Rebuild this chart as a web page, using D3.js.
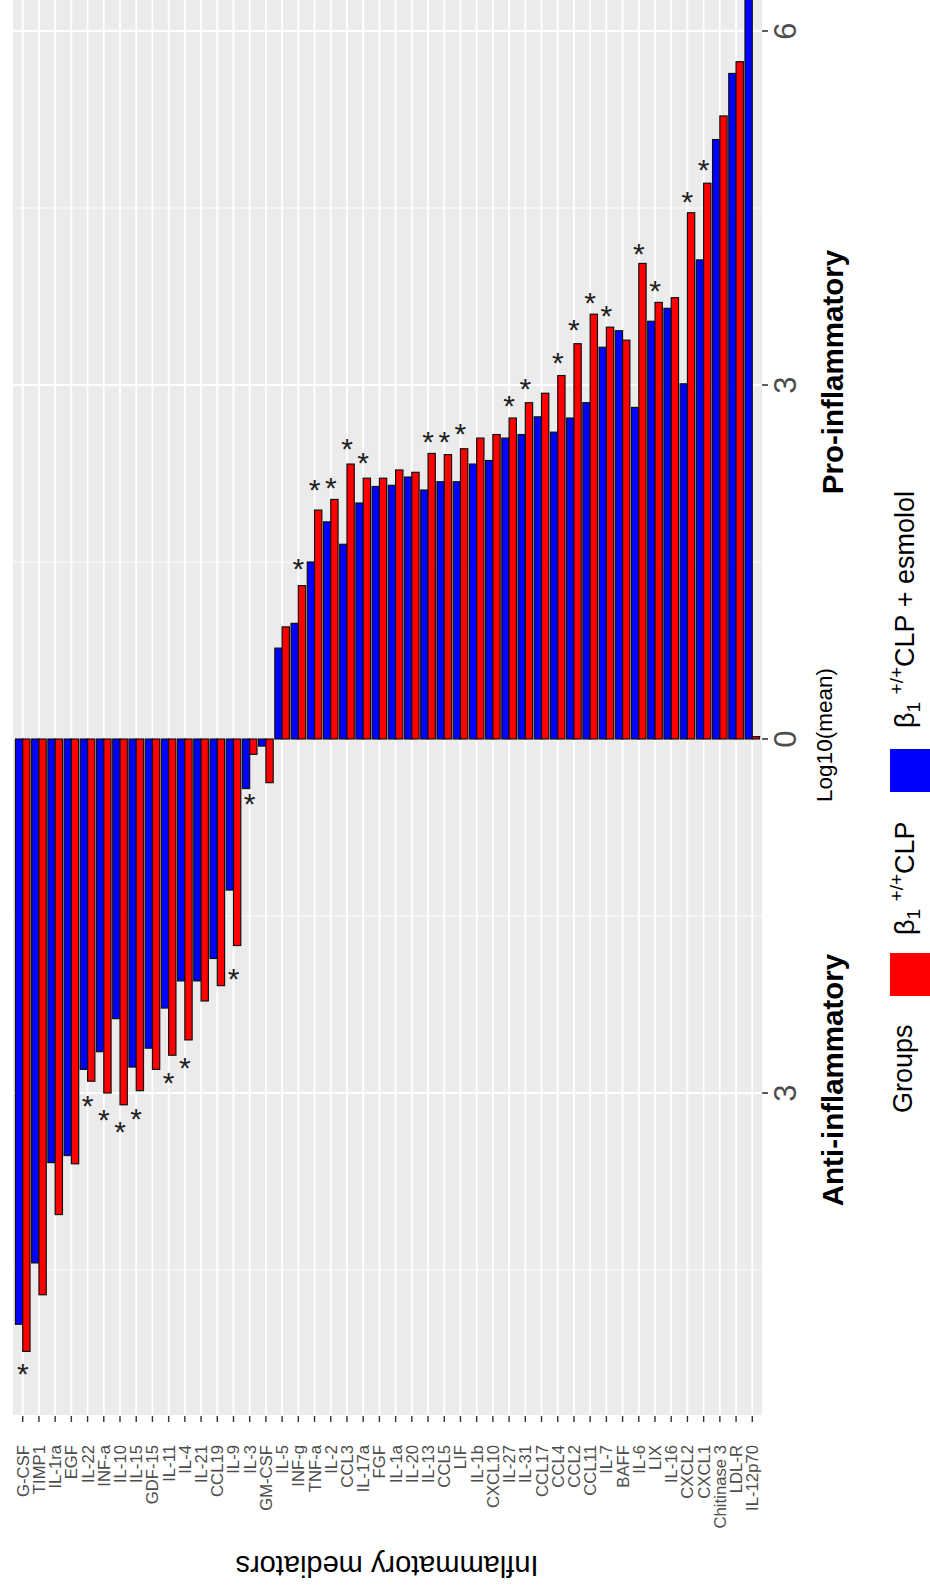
<!DOCTYPE html>
<html><head><meta charset="utf-8">
<script src="https://cdn.jsdelivr.net/npm/d3@7"></script>
<style>
body{margin:0;background:#fff;}
svg{display:block;font-family:"Liberation Sans",Arial,Helvetica,sans-serif;}
</style>
</head><body>
<svg id="chart" width="930" height="1585"></svg>
<script>
// ---------------- data ----------------
const categories = ["G-CSF","TIMP1","IL-1ra","EGF","IL-22","INF-a","IL-10","IL-15","GDF-15","IL-11","IL-4","IL-21","CCL19","IL-9","IL-3","GM-CSF","IL-5","INF-g","TNF-a","IL-2","CCL3","IL-17a","FGF","IL-1a","IL-20","IL-13","CCL5","LIF","IL-1b","CXCL10","IL-27","IL-31","CCL17","CCL4","CCL2","CCL11","IL-7","BAFF","IL-6","LIX","IL-16","CXCL2","CXCL1","Chitinase 3","LDL-R","IL-12p70"];
// β1+/+ CLP + esmolol (blue)
const esmololValues = [-4.96,-4.44,-3.59,-3.53,-2.80,-2.65,-2.37,-2.78,-2.62,-2.28,-2.05,-2.05,-1.86,-1.28,-0.42,-0.06,0.77,0.98,1.50,1.84,1.65,2.00,2.14,2.15,2.22,2.11,2.18,2.18,2.33,2.36,2.55,2.58,2.73,2.60,2.72,2.85,3.32,3.46,2.81,3.54,3.65,3.01,4.06,5.08,5.64,6.80];
// β1+/+ CLP (red)
const clpValues = [-5.19,-4.71,-4.03,-3.60,-2.90,-3.00,-3.10,-2.98,-2.80,-2.68,-2.55,-2.22,-2.09,-1.75,-0.13,-0.37,0.95,1.30,1.94,2.03,2.33,2.21,2.21,2.28,2.26,2.42,2.41,2.46,2.55,2.58,2.72,2.85,2.93,3.08,3.35,3.60,3.49,3.38,4.03,3.70,3.74,4.46,4.71,5.28,5.74,0.02];
// position of significance stars (Log10 units), null = none
const starValues = [-5.32,null,null,null,-3.05,-3.17,-3.27,-3.16,null,-2.85,-2.73,null,null,-1.97,-0.49,null,null,1.50,2.17,2.19,2.52,2.40,null,null,null,2.58,2.58,2.65,null,null,2.88,3.03,null,3.25,3.53,3.76,3.65,null,4.17,3.86,null,4.61,4.88,null,null,null];
const valueTicks = [-3, 0, 3, 6];
const minorTicks = [-4.5, -1.5, 1.5, 4.5];
const groups = ["esmolol", "clp"];
const groupColors = {esmolol: "#0000FF", clp: "#FF0000"};

// ---------------- layout ----------------
const svg = d3.select("#chart");
const P = {left: 13, right: 762, top: 0, bottom: 1415};
const x = d3.scaleBand().domain(categories).range([P.left, P.right]).paddingInner(0).paddingOuter(0.1);
const y = d3.scaleLinear().domain([(739 - 1415) / 118, 739 / 118]).range([P.bottom, P.top]);
const gx = d3.scaleBand().domain(groups).range([0, x.bandwidth() * 0.9]);
const off = x.bandwidth() * 0.05;

const data = categories.map((c, i) => ({
  cat: c,
  esmolol: esmololValues[i],
  clp: clpValues[i],
  star: starValues[i]
}));

svg.append("defs").append("clipPath").attr("id", "clip")
  .append("rect").attr("x", P.left).attr("y", P.top)
  .attr("width", P.right - P.left).attr("height", P.bottom - P.top);

// panel
svg.append("rect").attr("x", P.left).attr("y", P.top)
  .attr("width", P.right - P.left).attr("height", P.bottom - P.top)
  .attr("fill", "#EBEBEB");

const grid = svg.append("g").attr("clip-path", "url(#clip)");
grid.selectAll(".minor").data(minorTicks).join("line")
  .attr("x1", P.left).attr("x2", P.right)
  .attr("y1", d => y(d)).attr("y2", d => y(d))
  .attr("stroke", "#fff").attr("stroke-width", 0.9);
grid.selectAll(".major").data(valueTicks).join("line")
  .attr("x1", P.left).attr("x2", P.right)
  .attr("y1", d => y(d)).attr("y2", d => y(d))
  .attr("stroke", "#fff").attr("stroke-width", 1.8);
grid.selectAll(".vgrid").data(categories).join("line")
  .attr("x1", d => x(d) + x.bandwidth() / 2).attr("x2", d => x(d) + x.bandwidth() / 2)
  .attr("y1", P.top).attr("y2", P.bottom)
  .attr("stroke", "#fff").attr("stroke-width", 1.8);

// bars
const bars = svg.append("g").attr("clip-path", "url(#clip)");
data.forEach(d => {
  groups.forEach(gname => {
    const v = d[gname];
    if (v === null || v === undefined) return;
    bars.append("rect")
      .attr("x", x(d.cat) + off + gx(gname))
      .attr("width", gx.bandwidth())
      .attr("y", y(Math.max(0, v)))
      .attr("height", Math.abs(y(v) - y(0)))
      .attr("fill", groupColors[gname])
      .attr("stroke", "#111").attr("stroke-width", 1.2);
  });
});

// stars
const starFs = 30;
svg.append("g").selectAll("text").data(data.filter(d => d.star !== null)).join("text")
  .attr("x", d => x(d.cat) + x.bandwidth() / 2)
  .attr("y", d => y(d.star) + 0.575 * starFs)
  .attr("text-anchor", "middle")
  .attr("font-size", starFs)
  .attr("fill", "#222")
  .text("*");

// value axis (right)
const va = svg.append("g");
va.selectAll("line").data(valueTicks).join("line")
  .attr("x1", P.right).attr("x2", P.right + 6)
  .attr("y1", d => y(d)).attr("y2", d => y(d))
  .attr("stroke", "#333").attr("stroke-width", 1.6);
va.selectAll("text").data(valueTicks).join("text")
  .attr("transform", d => `translate(796,${y(d)}) rotate(-90)`)
  .attr("text-anchor", "middle")
  .attr("font-size", 31)
  .attr("fill", "#4D4D4D")
  .text(d => Math.abs(d));

// category axis (bottom)
const ca = svg.append("g");
ca.selectAll("line").data(categories).join("line")
  .attr("x1", d => x(d) + x.bandwidth() / 2).attr("x2", d => x(d) + x.bandwidth() / 2)
  .attr("y1", P.bottom + 1).attr("y2", P.bottom + 7)
  .attr("stroke", "#333").attr("stroke-width", 1.4);
ca.selectAll("text").data(categories).join("text")
  .attr("transform", d => `translate(${x(d) + x.bandwidth() / 2 + 6},1445) rotate(-90)`)
  .attr("text-anchor", "end")
  .attr("font-size", 16.7)
  .attr("fill", "#4D4D4D")
  .text(d => d);

// titles
svg.append("text")
  .attr("transform", "translate(387,1556) rotate(180)")
  .attr("text-anchor", "middle").attr("font-size", 29).attr("fill", "#000")
  .text("Inflammatory mediators");
svg.append("text")
  .attr("transform", "translate(832,735) rotate(-90)")
  .attr("text-anchor", "middle").attr("font-size", 22.5).attr("fill", "#000")
  .text("Log10(mean)");
svg.append("text")
  .attr("transform", "translate(843,372) rotate(-90)")
  .attr("text-anchor", "middle").attr("font-size", 29.5).attr("font-weight", "bold").attr("fill", "#000")
  .text("Pro-inflammatory");
svg.append("text")
  .attr("transform", "translate(843,1080) rotate(-90)")
  .attr("text-anchor", "middle").attr("font-size", 29.5).attr("font-weight", "bold").attr("fill", "#000")
  .text("Anti-inflammatory");

// legend
const lg = svg.append("g");
lg.append("text")
  .attr("transform", "translate(912,1113) rotate(-90)")
  .attr("text-anchor", "start").attr("font-size", 27).attr("fill", "#000")
  .text("Groups");
const legendItems = [
  {key: "clp", keyY0: 953, keyY1: 996, textY: 935, suffix: "CLP"},
  {key: "esmolol", keyY0: 749, keyY1: 792, textY: 728, suffix: "CLP + esmolol"}
];
legendItems.forEach(it => {
  lg.append("rect").attr("x", 890).attr("y", it.keyY0)
    .attr("width", 40).attr("height", it.keyY1 - it.keyY0)
    .attr("fill", groupColors[it.key]);
  const t = lg.append("text")
    .attr("transform", `translate(914,${it.textY}) rotate(-90)`)
    .attr("text-anchor", "start").attr("font-size", 27).attr("fill", "#000");
  t.append("tspan").text("β");
  t.append("tspan").attr("font-size", 19).attr("dy", 6).text("1");
  t.append("tspan").attr("dy", -6).text(" ");
  t.append("tspan").attr("font-size", 19).attr("dy", -11).text("+/+");
  t.append("tspan").attr("dy", 11).text(it.suffix);
});
</script>
</body></html>
